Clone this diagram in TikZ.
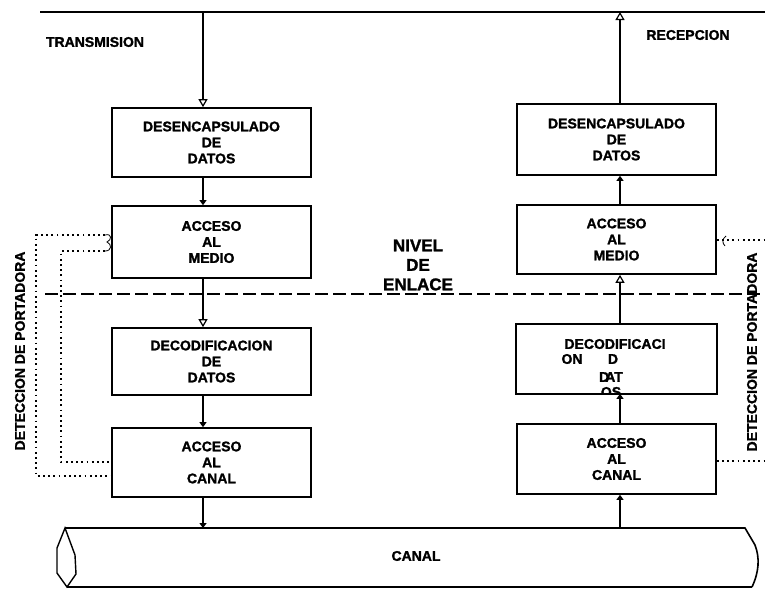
\documentclass[tikz,border=0pt]{standalone}
\usepackage{fontspec}
\setmainfont{Liberation Sans}[BoldFeatures={FakeBold=1.5}]
\usetikzlibrary{arrows.meta,calc}
\begin{document}
\begin{tikzpicture}[x=1pt,y=-1pt,
  lbl/.style={font=\fontsize{14}{16}\selectfont\bfseries, align=center, inner sep=0pt},
  big/.style={font=\fontsize{17}{19.5}\selectfont\bfseries, align=center, inner sep=0pt},
  blk/.style={draw, line width=1.7pt, minimum width=199pt, inner sep=0pt, lbl},
  flow/.style={line width=1.3pt},
  opentip/.style={-{Triangle[open,length=8pt,width=9pt,line width=1.2pt]}},
  solidtip/.style={-{Triangle[length=5pt,width=7pt]}},
  carrier/.style={line width=1.3pt, dash pattern=on 1.8pt off 3.4pt},
  hook/.style={line width=0.8pt},
]
\useasboundingbox (0,0) rectangle (765,589);

% upper interface line and sublayer boundary
\coordinate (busL) at (40,12);
\coordinate (busR) at (765,12);
\draw[line width=1.6pt] (busL) -- (busR);
\coordinate (sepL) at (45,294);
\coordinate (sepR) at (765,294);
\draw[line width=1.6pt, dash pattern=on 13pt off 5pt] (sepL) -- (sepR);

% titles
\node[lbl] (tx) at (95,42) {TRANSMISION};
\node[lbl] (rx) at (688,35) {RECEPCION};
\node[big] (nivel) at (418,265) {NIVEL\\DE\\ENLACE};

% transmit side blocks
\node[blk, minimum height=69pt] (L1) at (211.5,142.5) {DESENCAPSULADO\\DE\\DATOS};
\node[blk, minimum height=72pt] (L2) at (211.5,242) {ACCESO\\AL\\MEDIO};
\node[blk, minimum height=67pt] (L3) at (211.5,361.5) {DECODIFICACION\\DE\\DATOS};
\node[blk, minimum height=69pt] (L4) at (211.5,462.5) {ACCESO\\AL\\CANAL};

% receive side blocks
\node[blk, minimum height=71pt] (R1) at (616.5,139.5) {DESENCAPSULADO\\DE\\DATOS};
\node[blk, minimum height=69pt] (R2) at (616.5,239.5) {ACCESO\\AL\\MEDIO};
\node[blk, draw=none, minimum height=68pt] (R3) at (616.5,359) {};
\node[blk, minimum height=70pt] (R4) at (616.5,459) {ACCESO\\AL\\CANAL};

% broken label inside R3
\begin{scope}
  \clip (R3.north west) rectangle (R3.south east);
  \node[lbl] (r3a) at (615,344) {DECODIFICACI};
  \node[lbl] (r3b) at (572,359) {ON};
  \node[lbl] (r3c) at (613,359) {D};
  \node[lbl] (r3d) at (611,377) {D\kern-4pt AT};
  \node[lbl] (r3e) at (611,392) {OS};
\end{scope}
\draw[line width=1.7pt] (R3.north west) rectangle (R3.south east);

% channel pipe
\coordinate (chTL) at (65,528);
\coordinate (chTR) at (745,528);
\coordinate (chBL) at (67,587);
\coordinate (chBR) at (752,587);
\draw[line width=1.6pt] (chTL) -- (chTR) -- (755,545)
  .. controls (760,558) and (759,572) .. (chBR);
\draw[line width=1.6pt] (chBL) -- (chBR);
\draw[line width=1.4pt] (chTL) -- (57,548) -- (57,573) -- (chBL)
  -- (76,574) -- (75,555) -- cycle;
\node[lbl] (canal) at (416,556) {CANAL};

% transmit data path
\coordinate (ta) at (203,12);
\draw[flow,opentip] (ta) -- (ta |- L1.north);
\draw[flow,solidtip] (L1.south -| ta) -- (L2.north -| ta);
\draw[flow,opentip] (L2.south -| ta) -- (L3.north -| ta);
\draw[flow,solidtip] (L3.south -| ta) -- (L4.north -| ta);
\draw[flow,solidtip] (L4.south -| ta) -- (ta |- chTL);

% receive data path
\coordinate (ra) at (620,12);
\draw[flow,opentip] (R1.north -| ra) -- (ra);
\draw[flow,solidtip] (R2.north -| ra) -- (R1.south -| ra);
\draw[flow,opentip] (R3.north -| ra) -- (R2.south -| ra);
\draw[flow,solidtip] (R4.north -| ra) -- (R3.south -| ra);
\draw[flow,solidtip] (ra |- chTL) -- (R4.south -| ra);

% carrier detection, transmit side
\coordinate (c1) at ([shift={(-6,-7)}]L2.west);
\coordinate (c2) at ([shift={(-6,9)}]L2.west);
\draw[carrier] (c1) -| (36,476) -- (L4.west |- 0,476);
\draw[carrier] (c2) -| (61,462) -- (L4.west |- 0,462);
\draw[hook] (c1) .. controls (112,233) and (112,240) .. (107,242)
  .. controls (112,244) and (112,251) .. (c2);
\node[lbl, rotate=90] (detL) at (20,351) {DETECCION DE PORTADORA};

% carrier detection, receive side
\draw[carrier] (R2.east |- 0,240) -- (765,240);
\draw[hook] (726,236) .. controls (722,239) and (722,243) .. (725,246);
\draw[carrier] (R4.east |- 0,461) -- (765,461);
\node[lbl, rotate=90] (detR) at (752,352) {DETECCION DE PORTADORA};
\end{tikzpicture}
\end{document}
